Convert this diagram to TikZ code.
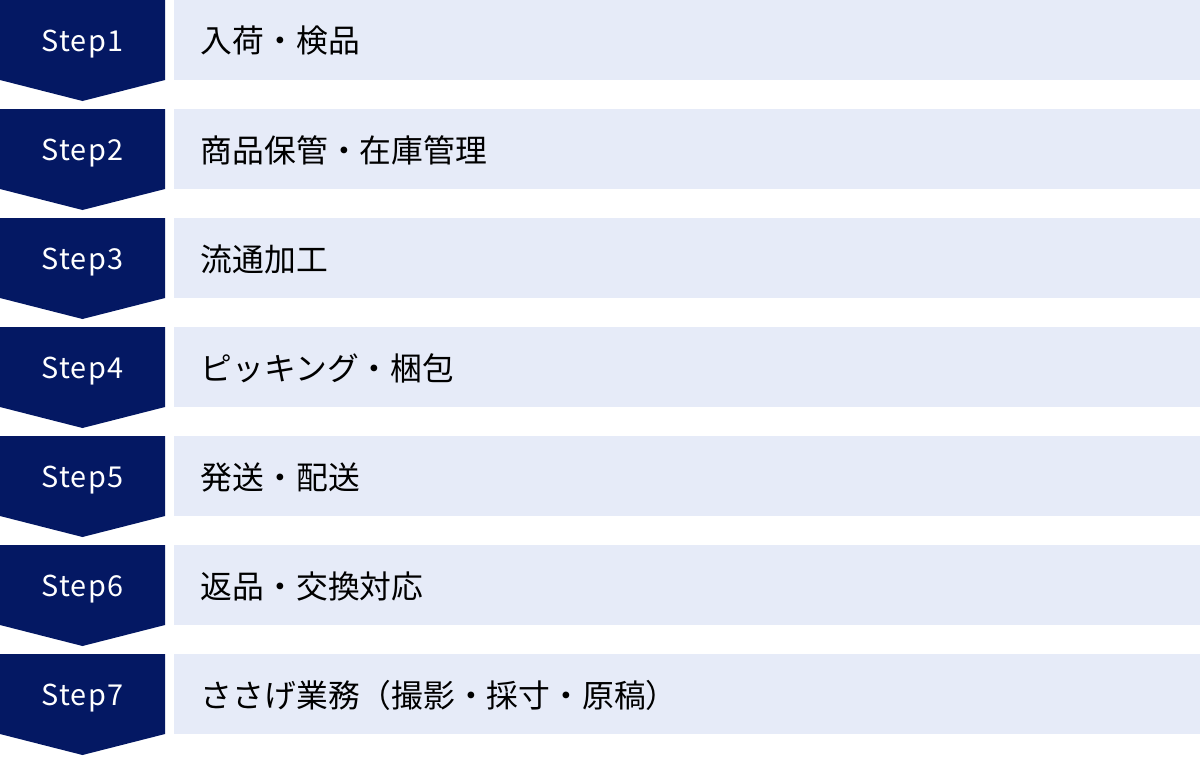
\documentclass[tikz,border=0pt]{standalone}
\usepackage{fontspec}
\setmainfont{Noto Sans CJK JP}
\newfontfamily\stepfont[LetterSpace=5]{Noto Sans CJK JP}
\definecolor{stepnavy}{HTML}{041863}
\definecolor{itempale}{HTML}{E6EBF8}
\begin{document}
\begin{tikzpicture}[x=0.025cm, y=-0.025cm, line join=miter,
  steptext/.style={text=white, font=\stepfont\fontsize{20.5}{20.5}\selectfont},
  itemtext/.style={anchor=west, text=black, font=\fontsize{22.6}{22.6}\selectfont}]
\useasboundingbox (0,0) rectangle (1200,756);
\def\rowh{109}
\foreach \i/\txt in {1/入荷・検品, 2/商品保管・在庫管理, 3/流通加工, 4/ピッキング・梱包,
  5/発送・配送, 6/返品・交換対応, 7/ささげ業務（撮影・採寸・原稿）}{
  \pgfmathsetmacro\rowy{(\i-1)*\rowh}
  \fill[stepnavy] (0,\rowy) -- (165,\rowy) -- (165,\rowy+80) -- (82.5,\rowy+101) -- (0,\rowy+80) -- cycle;
  \fill[itempale] (174,\rowy) rectangle (1200,\rowy+80);
  \node[steptext] (step\i) at (82.5,\rowy+44) {Step\i};
  \node[itemtext] (item\i) at (196,\rowy+41) {\txt};
}
\end{tikzpicture}
\end{document}
